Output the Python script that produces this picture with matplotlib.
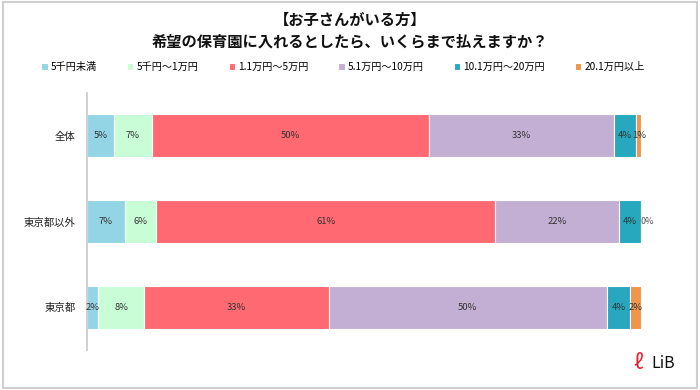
import matplotlib
matplotlib.use("Agg")
import matplotlib.pyplot as plt
from matplotlib.patches import Rectangle
import numpy as np

plt.rcParams['font.family'] = ['Noto Sans CJK JP', 'DejaVu Sans']

categories = ["全体", "東京都以外", "東京都"]
series_names = ["5千円未満", "5千円～1万円", "1.1万円～5万円", "5.1万円～10万円", "10.1万円～20万円", "20.1万円以上"]
values = {
    "5千円未満":       [4.9, 6.9, 2.0],
    "5千円～1万円":     [6.9, 5.6, 8.4],
    "1.1万円～5万円":   [50.0, 61.2, 33.2],
    "5.1万円～10万円":  [33.3, 22.3, 50.2],
    "10.1万円～20万円": [4.0, 4.0, 4.2],
    "20.1万円以上":     [0.9, 0.0, 2.0],
}
labels = {
    "5千円未満":       ["5%", "7%", "2%"],
    "5千円～1万円":     ["7%", "6%", "8%"],
    "1.1万円～5万円":   ["50%", "61%", "33%"],
    "5.1万円～10万円":  ["33%", "22%", "50%"],
    "10.1万円～20万円": ["4%", "4%", "4%"],
    "20.1万円以上":     ["1%", "0%", "2%"],
}
colors = ["#93D5E4", "#C8FDD6", "#FF6A72", "#C4AFD4", "#27A8BE", "#F0964A"]

fig = plt.figure(figsize=(7.0, 3.9), dpi=100)
ax = fig.add_axes([0.124, 0.1026, 0.792, 0.659])

y = np.arange(len(categories))
left = np.zeros(len(categories))
for name, col in zip(series_names, colors):
    vals = np.array(values[name])
    ax.barh(y, vals, left=left, height=0.5, color=col, edgecolor="white",
            linewidth=0.8, label=name)
    for i, (v, lab) in enumerate(zip(vals, labels[name])):
        if v < 0.5:
            ax.text(left[i] + v - 0.2, y[i], lab, ha="left", va="center",
                    fontsize=6.5, color="#555555")
        else:
            ax.text(left[i] + v / 2, y[i], lab, ha="center", va="center",
                    fontsize=6.8, color="#333333")
    left += vals

ax.set_ylim(2.5, -0.5)
ax.set_xlim(0, 100)
ax.set_yticks(y)
ax.set_yticklabels(categories, fontsize=7.5, color="#222222")
ax.tick_params(axis="y", length=0, pad=8)
ax.set_xticks([])
for s in ["top", "right", "bottom"]:
    ax.spines[s].set_visible(False)
ax.spines["left"].set_color("#C8C8C8")
ax.spines["left"].set_linewidth(1.2)

fig.text(0.5, 0.948, "【お子さんがいる方】", ha="center", va="center",
         fontsize=11, fontweight="bold", color="#111111")
fig.text(0.5, 0.893, "希望の保育園に入れるとしたら、いくらまで払えますか？", ha="center",
         va="center", fontsize=11, fontweight="bold", color="#111111")

handles, labs = ax.get_legend_handles_labels()
fig.legend(handles, labs, loc="center", bbox_to_anchor=(0.49, 0.828), ncol=6,
           fontsize=7.3, frameon=False, handlelength=0.6, handleheight=0.6,
           handletextpad=0.3, columnspacing=3.0)

# logo
fig.text(0.912, 0.068, "ℓ", ha="center", va="center", fontsize=15,
         color="#E8202A", style="italic")
fig.text(0.93, 0.068, "LiB", ha="left", va="center", fontsize=11.5, color="#111111")

# frame
fig.patches.append(Rectangle((0.004, 0.006), 0.992, 0.988, transform=fig.transFigure,
                             fill=False, edgecolor="#CFCFCF", linewidth=1.5))

fig.savefig("out.png", dpi=100)
